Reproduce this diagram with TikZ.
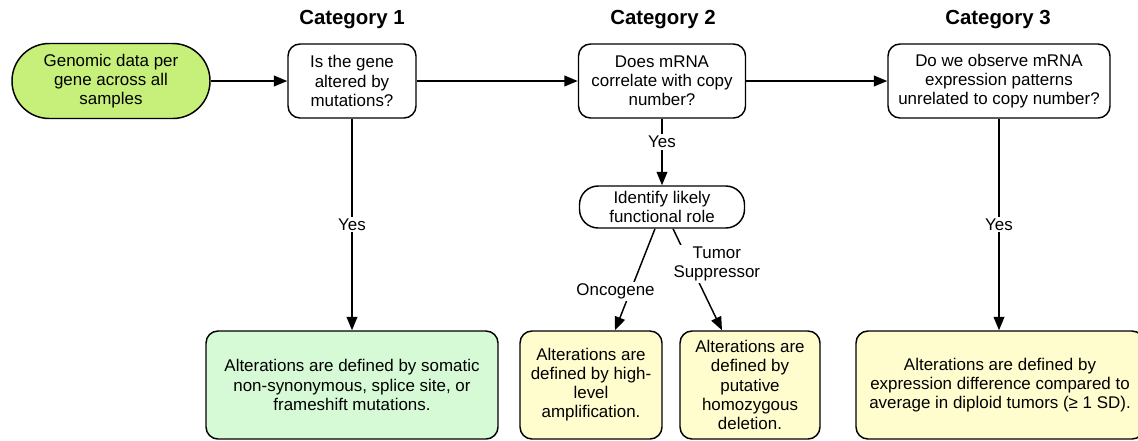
\documentclass[tikz,border=0pt]{standalone}
\usepackage{fontspec}
\setmainfont{Liberation Sans}
\usetikzlibrary{arrows.meta}
\definecolor{startgreen}{RGB}{198,240,122}
\definecolor{mutgreen}{RGB}{214,250,214}
\definecolor{cnyellow}{RGB}{255,252,206}
\tikzset{
  box/.style={draw, line width=1.1pt, rounded corners=9pt, align=center, inner sep=2pt},
  title/.style={font=\fontsize{15.3}{18}\selectfont\bfseries},
  ans/.style={fill=white, inner sep=1.5pt, align=center},
  arr/.style={-{Triangle[length=10pt,width=8pt]}, line width=1.1pt}
}
\begin{document}
\begin{tikzpicture}[x=0.75pt, y=-0.75pt, font=\fontsize{12.7}{14.3}\selectfont]
      \useasboundingbox (0,0) rectangle (1138,440);
      \clip (0,0) rectangle (1138,440);
      % titles
      \node [title] (t1) at (352,20) {Category 1};
      \node [title] (t2) at (663,20) {Category 2};
      \node [title] (t3) at (998,20) {Category 3};
      % questions
      \node [box, fill=startgreen, rounded corners=28pt, minimum width=148.5pt, minimum height=56.25pt] (g) at (111,81) {Genomic data per\\gene across all\\samples};
      \node [box, minimum width=96pt, minimum height=55.5pt] (q1) at (352,81) {Is the gene\\altered by\\mutations?};
      \node [box, minimum width=125.25pt, minimum height=55.5pt] (q2) at (662,81) {Does mRNA\\correlate with copy\\number?};
      \node [box, minimum width=166.5pt, minimum height=55.5pt] (q3) at (999,81) {Do we observe mRNA\\expression patterns\\unrelated to copy number?};
      \node [box, rounded corners=14pt, minimum width=123.75pt, minimum height=31.5pt] (role) at (662,207) {Identify likely\\functional role};
      % results
      \node [box, fill=mutgreen, minimum width=219pt, minimum height=81pt] (r1) at (352,385) {Alterations are defined by somatic\\non-synonymous, splice site, or\\frameshift mutations.};
      \node [box, fill=cnyellow, minimum width=106.5pt, minimum height=81pt] (onc) at (591,385) {Alterations are\\defined by high-\\level\\amplification.};
      \node [box, fill=cnyellow, minimum width=105pt, minimum height=81pt] (ts) at (750,385) {Alterations are\\defined by\\putative\\homozygous\\deletion.};
      \node [box, fill=cnyellow, minimum width=216pt, minimum height=81pt] (r3) at (1000,385) {Alterations are defined by\\expression difference compared to\\average in diploid tumors (≥ 1 SD).};
      % connectors
      \draw [arr] (g) -- (q1);
      \draw [arr] (q1) -- (q2);
      \draw [arr] (q2) -- (q3);
      \draw [arr] (q1) -- node [ans] {Yes} (r1);
      \draw [arr] (q2) -- node [ans, pos=0.35] {Yes} (role);
      \draw [arr] (q3) -- node [ans] {Yes} (q3 |- r3.north);
      \draw [arr] ([xshift=-5.25pt]role.south) -- node [ans, pos=0.62, xshift=-11pt] {Oncogene} ([xshift=18pt]onc.north);
      \draw [arr] ([xshift=8.25pt]role.south) -- node [ans, pos=0.35, xshift=20pt] {Tumor\\Suppressor} ([xshift=-21pt]ts.north);
\end{tikzpicture}
\end{document}
